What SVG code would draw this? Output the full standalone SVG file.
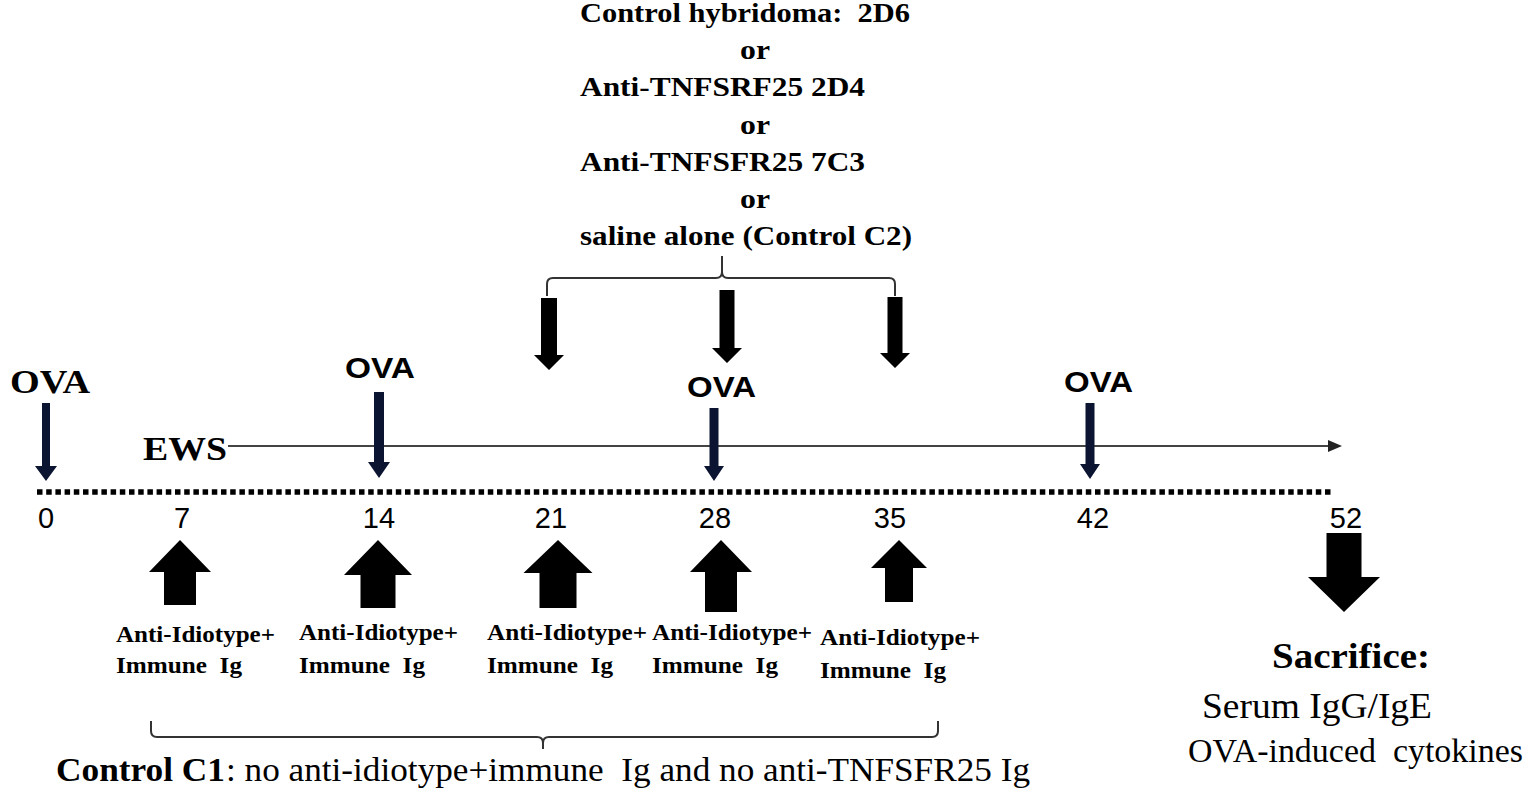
<svg xmlns="http://www.w3.org/2000/svg" width="1536" height="790" viewBox="0 0 1536 790">
<style>
text{white-space:pre}
.tb{font-family:"Liberation Serif","Times New Roman",serif;font-weight:bold;fill:#000}
.tr{font-family:"Liberation Serif","Times New Roman",serif;fill:#000}
.sb{font-family:"Liberation Sans",Arial,sans-serif;font-weight:bold;fill:#000}
.sn{font-family:"Liberation Sans",Arial,sans-serif;fill:#000;text-anchor:middle;font-size:29px}
.thick{fill:#000}
.thin{fill:#0b1430}
.br{fill:none;stroke:#333;stroke-width:2}
</style>
<rect width="1536" height="790" fill="#fff"/>

<g id="treatments">
<text class="tb" x="580" y="22" font-size="27" textLength="330" lengthAdjust="spacingAndGlyphs" xml:space="preserve">Control hybridoma:  2D6</text>
<text class="tb" x="740" y="59" font-size="27" textLength="30" lengthAdjust="spacingAndGlyphs">or</text>
<text class="tb" x="580" y="96" font-size="27" textLength="285" lengthAdjust="spacingAndGlyphs">Anti-TNFSRF25 2D4</text>
<text class="tb" x="740" y="134" font-size="27" textLength="30" lengthAdjust="spacingAndGlyphs">or</text>
<text class="tb" x="580" y="171" font-size="27" textLength="285" lengthAdjust="spacingAndGlyphs">Anti-TNFSFR25 7C3</text>
<text class="tb" x="740" y="208" font-size="27" textLength="30" lengthAdjust="spacingAndGlyphs">or</text>
<text class="tb" x="580" y="245" font-size="27" textLength="332" lengthAdjust="spacingAndGlyphs">saline alone (Control C2)</text>
</g>

<g id="connectors">
<path class="br" d="M547,296 L547,284 Q547,278 553,278 L716,278 Q722,278 722,272 L722,256 M722,272 Q722,278 728,278 L889,278 Q895,278 895,284 L895,296"/>
<path class="br" d="M151,721 L151,731 Q151,737 157,737 L537,737 Q543,737 543,743 L543,749 M543,743 Q543,737 549,737 L932,737 Q938,737 938,731 L938,721"/>
<line x1="228" y1="446" x2="1330" y2="446" stroke="#444" stroke-width="2"/>
<polygon points="1342,446 1328,440 1328,452" fill="#222"/>
<line x1="37" y1="492" x2="1334" y2="492" stroke="#000" stroke-width="5.5" stroke-dasharray="5.5 3.7"/>
</g>

<g id="treatment-arrows">
<path class="thick" d="M541,298 L557,298 L557,355 L564,355 L549,370 L534,355 L541,355 Z"/>
<path class="thick" d="M719.5,290 L734.5,290 L734.5,348 L742,348 L727,363 L712,348 L719.5,348 Z"/>
<path class="thick" d="M887.5,297 L902.5,297 L902.5,353 L910,353 L895,368 L880,353 L887.5,353 Z"/>
</g>

<g id="ova-0">
<text class="tb" x="10" y="393" font-size="33" textLength="80" lengthAdjust="spacingAndGlyphs">OVA</text>
<path class="thin" d="M42,403 L50,403 L50,466 L57,466 L46,481 L35,466 L42,466 Z"/>
</g>
<g id="ova-14">
<text class="sb" x="345" y="378" font-size="29" textLength="70" lengthAdjust="spacingAndGlyphs">OVA</text>
<path class="thin" d="M374,392 L384,392 L384,462 L390,462 L379,478 L368,462 L374,462 Z"/>
</g>
<g id="ova-28">
<text class="sb" x="687" y="397" font-size="29" textLength="69" lengthAdjust="spacingAndGlyphs">OVA</text>
<path class="thin" d="M709.5,408 L718.5,408 L718.5,466 L724,466 L714,481 L704,466 L709.5,466 Z"/>
</g>
<g id="ova-42">
<text class="sb" x="1064" y="392" font-size="29" textLength="69" lengthAdjust="spacingAndGlyphs">OVA</text>
<path class="thin" d="M1085.5,403 L1094.5,403 L1094.5,464 L1100,464 L1090,479 L1080,464 L1085.5,464 Z"/>
</g>

<g id="ews">
<text class="tb" x="143" y="460" font-size="34" textLength="84" lengthAdjust="spacingAndGlyphs">EWS</text>
</g>

<g id="days">
<text class="sn" x="46" y="528">0</text>
<text class="sn" x="182" y="528">7</text>
<text class="sn" x="379" y="528">14</text>
<text class="sn" x="551" y="528">21</text>
<text class="sn" x="715" y="528">28</text>
<text class="sn" x="890" y="528">35</text>
<text class="sn" x="1093" y="528">42</text>
<text class="sn" x="1346" y="528">52</text>
</g>

<g id="inj-7">
<path class="thick" d="M180,540 L211,572 L196,572 L196,605 L164,605 L164,572 L149,572 Z"/>
<text class="tb" x="116" y="642" font-size="24" textLength="159" lengthAdjust="spacingAndGlyphs">Anti-Idiotype+</text>
<text class="tb" x="116" y="673" font-size="24" textLength="126" lengthAdjust="spacingAndGlyphs" xml:space="preserve">Immune  Ig</text>
</g>
<g id="inj-14">
<path class="thick" d="M378,540 L412,575 L395.5,575 L395.5,608 L360.5,608 L360.5,575 L344,575 Z"/>
<text class="tb" x="299" y="640" font-size="24" textLength="159" lengthAdjust="spacingAndGlyphs">Anti-Idiotype+</text>
<text class="tb" x="299" y="673" font-size="24" textLength="126" lengthAdjust="spacingAndGlyphs" xml:space="preserve">Immune  Ig</text>
</g>
<g id="inj-21">
<path class="thick" d="M558,540 L592.5,573 L576.5,573 L576.5,608 L539.5,608 L539.5,573 L523.5,573 Z"/>
<text class="tb" x="487" y="640" font-size="24" textLength="160" lengthAdjust="spacingAndGlyphs">Anti-Idiotype+</text>
<text class="tb" x="487" y="673" font-size="24" textLength="126" lengthAdjust="spacingAndGlyphs" xml:space="preserve">Immune  Ig</text>
</g>
<g id="inj-28">
<path class="thick" d="M721,540 L752,572 L737,572 L737,612 L705,612 L705,572 L690,572 Z"/>
<text class="tb" x="652" y="640" font-size="24" textLength="160" lengthAdjust="spacingAndGlyphs">Anti-Idiotype+</text>
<text class="tb" x="652" y="673" font-size="24" textLength="126" lengthAdjust="spacingAndGlyphs" xml:space="preserve">Immune  Ig</text>
</g>
<g id="inj-35">
<path class="thick" d="M899,540 L927,568 L913,568 L913,602 L885,602 L885,568 L871,568 Z"/>
<text class="tb" x="820" y="645" font-size="24" textLength="160" lengthAdjust="spacingAndGlyphs">Anti-Idiotype+</text>
<text class="tb" x="820" y="678" font-size="24" textLength="126" lengthAdjust="spacingAndGlyphs" xml:space="preserve">Immune  Ig</text>
</g>

<g id="sacrifice">
<path class="thick" d="M1326.5,533 L1361.5,533 L1361.5,577 L1380,577 L1344,612 L1308,577 L1326.5,577 Z"/>
<text class="tb" x="1272" y="668" font-size="35" textLength="158" lengthAdjust="spacingAndGlyphs">Sacrifice:</text>
<text class="tr" x="1202" y="718" font-size="36" textLength="230" lengthAdjust="spacingAndGlyphs">Serum IgG/IgE</text>
<text class="tr" x="1188" y="762" font-size="34" textLength="335" lengthAdjust="spacingAndGlyphs" xml:space="preserve">OVA-induced  cytokines</text>
</g>

<g id="control-c1">
<text class="tb" x="56" y="781" font-size="33" textLength="169" lengthAdjust="spacingAndGlyphs">Control C1</text>
<text class="tr" x="226" y="781" font-size="33" textLength="804" lengthAdjust="spacingAndGlyphs" xml:space="preserve">: no anti-idiotype+immune  Ig and no anti-TNFSFR25 Ig</text>
</g>
</svg>
